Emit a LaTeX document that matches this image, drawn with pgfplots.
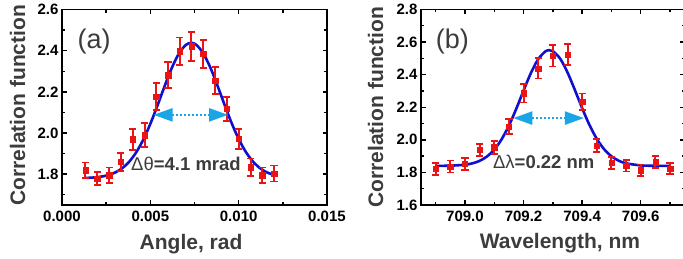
\documentclass[border=0pt]{standalone}
\usepackage{pgfplots}
\pgfplotsset{compat=1.18}
\usepackage{pgfplotstable}
\usepackage{fontspec}
\setmainfont{Liberation Sans}
\usetikzlibrary{arrows.meta}
\definecolor{mred}{RGB}{235,20,20}
\definecolor{mblue}{RGB}{15,15,205}
\definecolor{mcyan}{RGB}{25,165,230}
\definecolor{mgray}{RGB}{60,60,60}

\pgfplotstableread{
x y e
0.00133 1.8195 0.037
0.00200 1.779 0.031
0.00267 1.795 0.037
0.00333 1.860 0.043
0.00400 1.969 0.051
0.00467 1.990 0.057
0.00533 2.177 0.065
0.00600 2.280 0.063
0.00667 2.397 0.067
0.00733 2.421 0.070
0.00800 2.384 0.069
0.00867 2.254 0.065
0.00933 2.117 0.057
0.01000 1.971 0.049
0.01067 1.833 0.043
0.01133 1.795 0.037
0.01200 1.803 0.039
}\dataA

\pgfplotstableread{
x y
0.00135 1.7815
0.0018 1.7837
0.0022 1.7876
0.0026 1.7948
0.0030 1.8075
0.0034 1.8282
0.0038 1.8600
0.0042 1.9059
0.0046 1.9674
0.0050 2.0442
0.0054 2.1326
0.0058 2.2255
0.0062 2.3130
0.0066 2.3836
0.0070 2.4273
0.00731 2.4380
0.0076 2.4286
0.0080 2.3865
0.0084 2.3170
0.0088 2.2301
0.0092 2.1373
0.0096 2.0484
0.0100 1.9710
0.0104 1.9086
0.0108 1.8620
0.0112 1.8295
0.0116 1.8083
0.01215 1.7920
}\fitA

\pgfplotstableread{
x y e
708.90 1.822 0.038
708.95 1.836 0.037
709.00 1.852 0.037
709.05 1.938 0.036
709.10 1.955 0.040
709.15 2.082 0.047
709.20 2.285 0.056
709.25 2.438 0.062
709.30 2.515 0.065
709.35 2.523 0.065
709.40 2.233 0.051
709.45 1.964 0.040
709.50 1.860 0.037
709.55 1.841 0.036
709.60 1.813 0.035
709.65 1.863 0.036
709.70 1.824 0.035
}\dataB

\pgfplotstableread{
x y
708.90 1.8402
708.95 1.8413
709.00 1.8472
709.025 1.8554
709.05 1.8708
709.075 1.8975
709.10 1.9402
709.125 2.0029
709.15 2.0872
709.175 2.1900
709.20 2.3024
709.225 2.4098
709.25 2.4954
709.275 2.5434
709.288 2.5500
709.30 2.5443
709.325 2.4982
709.35 2.4138
709.375 2.3068
709.40 2.1944
709.425 2.0910
709.45 2.0059
709.475 1.9423
709.50 1.8989
709.525 1.8716
709.55 1.8558
709.60 1.8432
709.65 1.8405
709.70 1.8400
}\fitB

\tikzset{
  arr/.style={mcyan, line width=2.4pt, dash pattern=on 2.2pt off 1.8pt,
    {Triangle[length=19pt,width=13pt]}-{Triangle[length=19pt,width=13pt]}},
}

\pgfplotsset{
  panel/.style={
    scale only axis,
    anchor=south west,
    height=195.5pt,
    axis line style={line width=1.8pt},
    tick style={line width=1.4pt, black},
    major tick length=4.5pt, minor tick length=3pt,
    tick align=inside,
    xtick pos=both, ytick pos=both,
    scaled x ticks=false, scaled y ticks=false,
    ticklabel style={font=\fontsize{15}{15}\selectfont\bfseries},
    xticklabel style={yshift=-2pt},
    label style={font=\fontsize{21}{21}\selectfont\bfseries, text=mgray},
  },
  datamarks/.style={
    only marks, mark=square*, mark size=2.7pt, color=mred,
    error bars/.cd, y dir=both, y explicit,
    error bar style={line width=2pt, mred},
    error mark options={rotate=90, mark size=3.6pt, line width=1.8pt, mred},
  },
  fitline/.style={mblue, line width=2.6pt, smooth, no marks},
}

\begin{document}
\begin{tikzpicture}
\useasboundingbox (0,0) rectangle (683pt,259pt);
\begin{axis}[panel, at={(62pt,54pt)}, width=265pt,
  xmin=0, xmax=0.015, ymin=1.65, ymax=2.6,
  xtick={0,0.005,0.010,0.015}, xticklabels={0.000,0.005,0.010,0.015},
  ytick={1.8,2.0,2.2,2.4,2.6}, yticklabels={1.8,2.0,2.2,2.4,2.6},
  minor xtick={0.0025,0.0075,0.0125}, minor ytick={1.7,1.9,2.1,2.3,2.5},
  xlabel={Angle, rad}, ylabel={Correlation function},
  xlabel style={at={(axis description cs:0.487,-0.230)}, anchor=base},
  ylabel style={at={(axis description cs:-0.1396,0.51)}, anchor=base},
]
\addplot[fitline] table[x=x,y=y] {\fitA};
\addplot[datamarks] table[x=x,y=y,y error=e] {\dataA};
\draw[arr] (axis cs:0.005184,2.088) -- (axis cs:0.0094,2.088);
\node[font=\fontsize{27}{27}\selectfont, text=mgray] at (rel axis cs:0.121,0.834) {(a)};
\node[font=\fontsize{18.5}{18.5}\selectfont\bfseries, text=mgray, anchor=base, inner sep=0pt] at (axis cs:0.00702,1.8195) {{\mdseries Δθ}=4.1 mrad};
\end{axis}

\begin{axis}[panel, at={(421pt,54pt)}, width=263.7pt,
  xmin=708.85, xmax=709.75, ymin=1.6, ymax=2.8,
  xtick={709.0,709.2,709.4,709.6}, xticklabels={709.0,709.2,709.4,709.6},
  ytick={1.6,1.8,2.0,2.2,2.4,2.6,2.8}, yticklabels={1.6,1.8,2.0,2.2,2.4,2.6,2.8},
  minor xtick={708.9,709.1,709.3,709.5,709.7}, minor ytick={1.7,1.9,2.1,2.3,2.5,2.7},
  xlabel={Wavelength, nm}, ylabel={Correlation function},
  xlabel style={at={(axis description cs:0.527,-0.225)}, anchor=base},
  ylabel style={at={(axis description cs:-0.144,0.5)}, anchor=base},
]
\addplot[fitline] table[x=x,y=y] {\fitB};
\addplot[datamarks] table[x=x,y=y,y error=e] {\dataB};
\draw[arr] (axis cs:709.165,2.1335) -- (axis cs:709.406,2.1335);
\node[font=\fontsize{27}{27}\selectfont, text=mgray] at (rel axis cs:0.119,0.834) {(b)};
\node[font=\fontsize{18.5}{18.5}\selectfont\bfseries, text=mgray, anchor=base, inner sep=0pt] at (axis cs:709.269,1.826) {{\mdseries Δλ}=0.22 nm};
\end{axis}
\end{tikzpicture}
\end{document}
